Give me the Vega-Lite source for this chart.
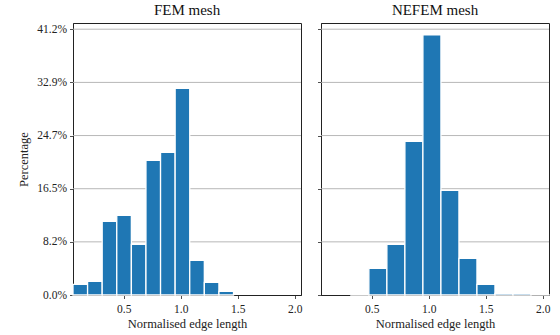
{
  "$schema": "https://vega.github.io/schema/vega-lite/v6.json",
  "padding": {"left": 17, "top": 2, "right": 5, "bottom": 5},
  "bounds": "flush",
  "spacing": 20,
  "config": {
    "font": "Liberation Serif, DejaVu Serif, serif",
    "view": {"stroke": "#222", "strokeWidth": 1},
    "title": {"font": "Liberation Serif, DejaVu Serif, serif", "fontSize": 15, "fontWeight": "normal", "color": "#111", "offset": 5},
    "axis": {
      "labelFont": "Liberation Serif, DejaVu Serif, serif", "labelFontSize": 11.5, "labelColor": "#222",
      "titleFont": "Liberation Serif, DejaVu Serif, serif", "titleFontSize": 12.5, "titleFontWeight": "normal", "titleColor": "#222",
      "domainColor": "#222", "domainWidth": 1, "tickColor": "#222", "tickWidth": 0.8, "tickSize": 3.5,
      "grid": false, "zindex": 1, "labelPadding": 3
    }
  },
  "datasets": {
    "grid": [{"pct": 8.23}, {"pct": 16.46}, {"pct": 24.69}, {"pct": 32.92}, {"pct": 41.16}],
    "fem": [
      {"bin_start": 0.055, "bin_end": 0.183, "pct": 1.66},
      {"bin_start": 0.183, "bin_end": 0.311, "pct": 2.12},
      {"bin_start": 0.311, "bin_end": 0.439, "pct": 11.4},
      {"bin_start": 0.439, "bin_end": 0.567, "pct": 12.34},
      {"bin_start": 0.567, "bin_end": 0.695, "pct": 7.85},
      {"bin_start": 0.695, "bin_end": 0.823, "pct": 20.86},
      {"bin_start": 0.823, "bin_end": 0.951, "pct": 22.1},
      {"bin_start": 0.951, "bin_end": 1.079, "pct": 32.0},
      {"bin_start": 1.079, "bin_end": 1.207, "pct": 5.37},
      {"bin_start": 1.207, "bin_end": 1.335, "pct": 1.97},
      {"bin_start": 1.335, "bin_end": 1.463, "pct": 0.57}
    ],
    "nefem": [
      {"bin_start": 0.317, "bin_end": 0.475, "pct": 0.12},
      {"bin_start": 0.475, "bin_end": 0.633, "pct": 4.13},
      {"bin_start": 0.633, "bin_end": 0.791, "pct": 7.85},
      {"bin_start": 0.791, "bin_end": 0.949, "pct": 23.8},
      {"bin_start": 0.949, "bin_end": 1.107, "pct": 40.27},
      {"bin_start": 1.107, "bin_end": 1.265, "pct": 16.2},
      {"bin_start": 1.265, "bin_end": 1.423, "pct": 5.68},
      {"bin_start": 1.423, "bin_end": 1.581, "pct": 1.66},
      {"bin_start": 1.581, "bin_end": 1.739, "pct": 0.26},
      {"bin_start": 1.739, "bin_end": 1.897, "pct": 0.26},
      {"bin_start": 1.897, "bin_end": 2.055, "pct": 0.06}
    ]
  },
  "hconcat": [
    {
      "width": 228, "height": 272,
      "title": "FEM mesh",
      "encoding": {
        "y": {"field": "pct", "type": "quantitative",
              "scale": {"domain": [0, 42.12], "nice": false, "zero": true},
              "axis": {"values": [0, 8.23, 16.46, 24.69, 32.92, 41.16], "labelExpr": "format(datum.value, '.1f') + '%'", "title": "Percentage", "titlePadding": 6}}
      },
      "layer": [
        {"data": {"name": "grid"}, "mark": {"type": "rule", "color": "#b0b0b0", "strokeWidth": 0.9}},
        {"data": {"name": "fem"}, "mark": {"type": "bar", "color": "#1f77b4", "stroke": "white", "strokeWidth": 1.3},
         "encoding": {
           "x": {"field": "bin_start", "type": "quantitative", "scale": {"domain": [0.055, 2.055], "nice": false, "zero": false},
                 "axis": {"values": [0.5, 1.0, 1.5, 2.0], "format": ".1f", "title": "Normalised edge length", "labelPadding": 5, "titlePadding": 2}},
           "x2": {"field": "bin_end"},
           "y2": {"datum": 0}
         }}
      ]
    },
    {
      "width": 228, "height": 272,
      "title": "NEFEM mesh",
      "encoding": {
        "y": {"field": "pct", "type": "quantitative",
              "scale": {"domain": [0, 42.12], "nice": false, "zero": true},
              "axis": {"values": [0, 8.23, 16.46, 24.69, 32.92, 41.16], "labels": false, "title": null}}
      },
      "layer": [
        {"data": {"name": "grid"}, "mark": {"type": "rule", "color": "#b0b0b0", "strokeWidth": 0.9}},
        {"data": {"name": "nefem"}, "mark": {"type": "bar", "color": "#1f77b4", "stroke": "white", "strokeWidth": 1.3},
         "encoding": {
           "x": {"field": "bin_start", "type": "quantitative", "scale": {"domain": [0.055, 2.055], "nice": false, "zero": false},
                 "axis": {"values": [0.5, 1.0, 1.5, 2.0], "format": ".1f", "title": "Normalised edge length", "labelPadding": 5, "titlePadding": 2}},
           "x2": {"field": "bin_end"},
           "y2": {"datum": 0}
         }}
      ]
    }
  ]
}
